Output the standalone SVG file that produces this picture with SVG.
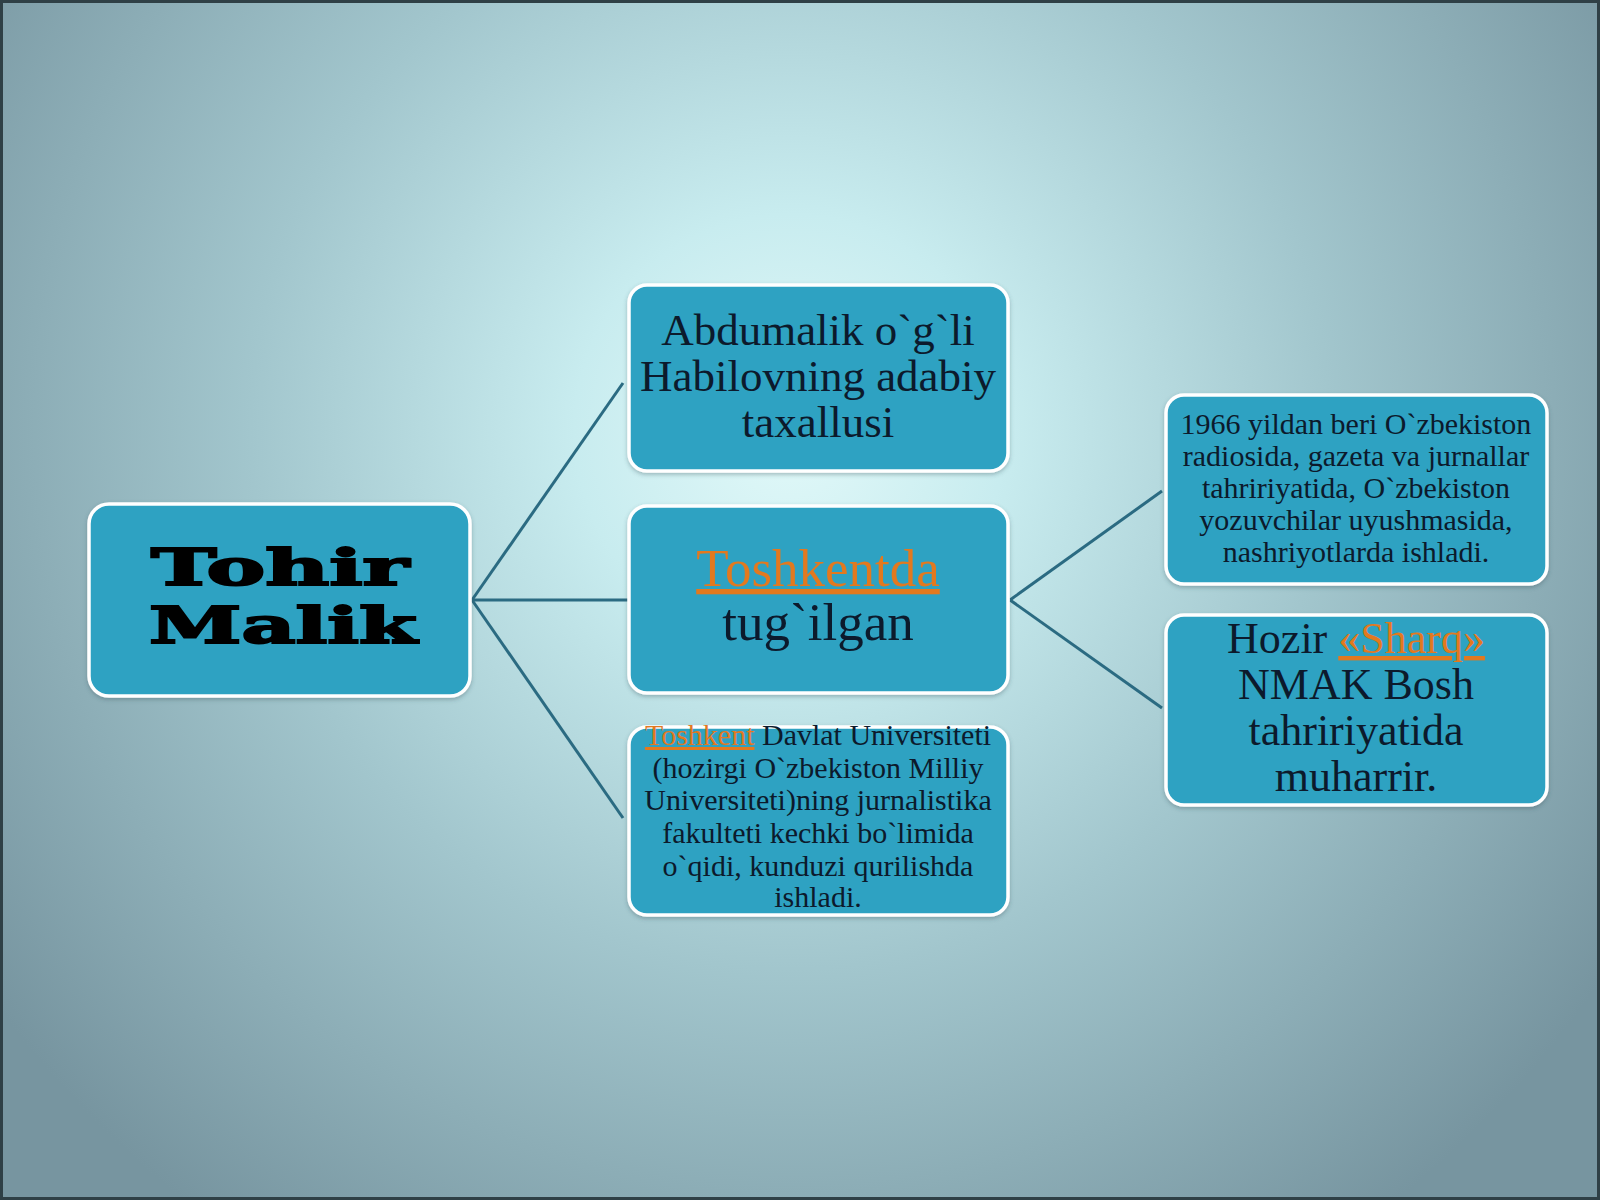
<svg xmlns="http://www.w3.org/2000/svg" width="1600" height="1200" viewBox="0 0 1600 1200">
<defs>
<radialGradient id="bg" gradientUnits="userSpaceOnUse" cx="790" cy="430" r="980">
<stop offset="0" stop-color="#e2f9f9"/>
<stop offset="0.22" stop-color="#c8ecef"/>
<stop offset="0.55" stop-color="#a2c6cd"/>
<stop offset="1" stop-color="#7795a0"/>
</radialGradient>
<filter id="sh" x="-10%" y="-10%" width="120%" height="130%">
<feDropShadow dx="0" dy="2" stdDeviation="2" flood-color="#30505a" flood-opacity="0.35"/>
</filter>
<style>
.box{fill:#2ea2c2;stroke:#ffffff;stroke-width:3.5;filter:url(#sh)}
.t{font-family:"Liberation Serif","Times New Roman",serif;fill:#0c1a2c;text-anchor:middle}
.o{fill:#e2791f;text-decoration:underline}
.big{font-family:"DejaVu Serif",serif;font-weight:bold;fill:#000;stroke:#000;stroke-width:2;text-anchor:middle}
.c{stroke:#2b6b82;stroke-width:3;fill:none}
</style>
</defs>
<rect x="0" y="0" width="1600" height="1200" fill="url(#bg)"/>
<rect x="1.5" y="1.5" width="1597" height="1197" fill="none" stroke="#2f4046" stroke-width="3"/>
<g id="connectors">
<line class="c" x1="472" y1="600" x2="623" y2="383"/>
<line class="c" x1="472" y1="600" x2="629" y2="600"/>
<line class="c" x1="472" y1="600" x2="623" y2="818"/>
<line class="c" x1="1010" y1="600" x2="1162" y2="491"/>
<line class="c" x1="1010" y1="600" x2="1162" y2="708"/>
</g>
<g id="n-tohir">
<rect class="box" x="89" y="504" width="381" height="192" rx="20"/>
<text class="big" x="280" y="585" font-size="50" textLength="258" lengthAdjust="spacingAndGlyphs">Tohir</text>
<text class="big" x="283" y="643" font-size="50" textLength="268" lengthAdjust="spacingAndGlyphs">Malik</text>
</g>
<g id="n-abdumalik">
<rect class="box" x="629" y="285" width="379" height="186" rx="18"/>
<text class="t" x="818" y="345" font-size="45">Abdumalik o`g`li</text>
<text class="t" x="818" y="391" font-size="45">Habilovning adabiy</text>
<text class="t" x="818" y="437" font-size="45">taxallusi</text>
</g>
<g id="n-toshkentda">
<rect class="box" x="629" y="506" width="379" height="187" rx="18"/>
<text class="t o" x="818" y="586" font-size="53">Toshkentda</text>
<text class="t" x="818" y="640" font-size="53">tug`ilgan</text>
</g>
<g id="n-universitet">
<rect class="box" x="629" y="727" width="379" height="188" rx="18"/>
<text class="t" x="818" y="745" font-size="30"><tspan class="o">Toshkent</tspan> Davlat Universiteti</text>
<text class="t" x="818" y="778" font-size="30">(hozirgi O`zbekiston Milliy</text>
<text class="t" x="818" y="810" font-size="30">Universiteti)ning jurnalistika</text>
<text class="t" x="818" y="843" font-size="30">fakulteti kechki bo`limida</text>
<text class="t" x="818" y="876" font-size="30">o`qidi, kunduzi qurilishda</text>
<text class="t" x="818" y="907" font-size="30">ishladi.</text>
</g>
<g id="n-1966">
<rect class="box" x="1166" y="395" width="381" height="189" rx="18"/>
<text class="t" x="1356" y="434" font-size="30">1966 yildan beri O`zbekiston</text>
<text class="t" x="1356" y="466" font-size="30">radiosida, gazeta va jurnallar</text>
<text class="t" x="1356" y="498" font-size="30">tahririyatida, O`zbekiston</text>
<text class="t" x="1356" y="530" font-size="30">yozuvchilar uyushmasida,</text>
<text class="t" x="1356" y="562" font-size="30">nashriyotlarda ishladi.</text>
</g>
<g id="n-hozir">
<rect class="box" x="1166" y="615" width="381" height="190" rx="18"/>
<text class="t" x="1356" y="653" font-size="44">Hozir <tspan class="o">«Sharq»</tspan></text>
<text class="t" x="1356" y="699" font-size="44">NMAK Bosh</text>
<text class="t" x="1356" y="745" font-size="44">tahririyatida</text>
<text class="t" x="1356" y="791" font-size="44">muharrir.</text>
</g>
</svg>
